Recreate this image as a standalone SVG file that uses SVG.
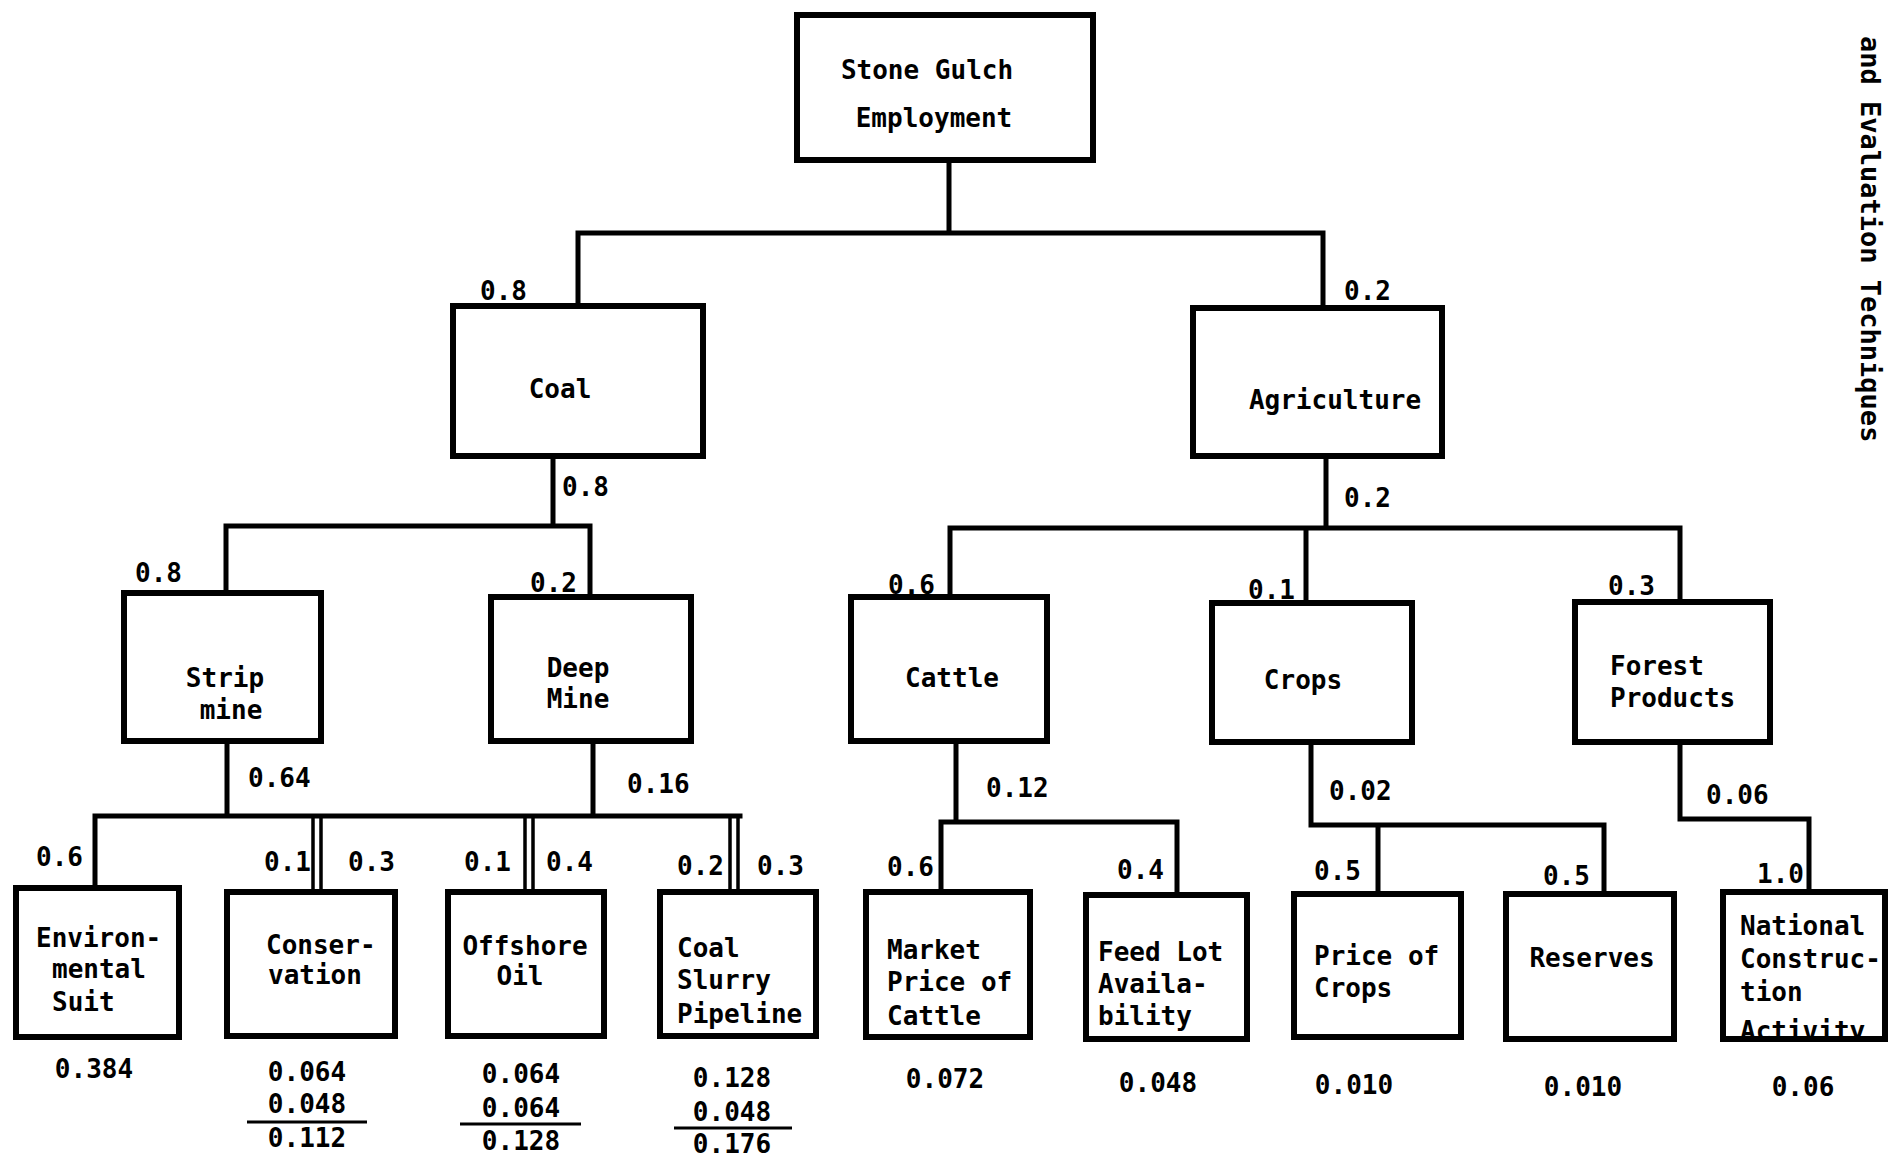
<svg xmlns="http://www.w3.org/2000/svg" width="1895" height="1160" viewBox="0 0 1895 1160">
<style>
text{font-family:"DejaVu Sans Mono","Liberation Mono",monospace;font-size:26px;font-weight:bold;fill:#000}
.m{text-anchor:middle}
.box{fill:#fff;stroke:#000;stroke-width:6}
.bx{fill:none;stroke:#000;stroke-width:6}
.c{fill:none;stroke:#000;stroke-width:5;stroke-linecap:square}
.d{fill:none;stroke:#000;stroke-width:3.5}
.r{stroke:#000;stroke-width:3}
</style>
<defs>
<clipPath id="natclip"><rect x="1723" y="892" width="162" height="145"/></clipPath>
</defs>
<rect width="1895" height="1160" fill="#fff"/>
<g id="connectors">
<path class="c" d="M949 161V233M578 233H1323M578 233V306M1323 233V308"/>
<path class="c" d="M553 456V526M226 526H590M226 526V593M590 526V597"/>
<path class="c" d="M1326 456V528M950 528H1680M950 528V597M1306 528V603M1680 528V602"/>
<path class="c" d="M227 741V816M593 741V816M95 816H740M95 816V888"/>
<path class="d" d="M313 816V892M321 816V892M525 816V892M533 816V892M730 816V892M738 816V892"/>
<path class="c" d="M956 741V822M941 822H1177M941 822V892M1177 822V895"/>
<path class="c" d="M1311 742V825H1604M1378 825V894M1604 825V894"/>
<path class="c" d="M1680 742V819H1809V892"/>
</g>
<g id="edge-labels">
<text x="480" y="300">0.8</text>
<text x="1344" y="300">0.2</text>
<text x="562" y="496">0.8</text>
<text x="1344" y="507">0.2</text>
<text x="135" y="582">0.8</text>
<text x="530" y="592">0.2</text>
<text x="888" y="594">0.6</text>
<text x="1248" y="599">0.1</text>
<text x="1608" y="595">0.3</text>
<text x="248" y="787">0.64</text>
<text x="627" y="793">0.16</text>
<text x="986" y="797">0.12</text>
<text x="1329" y="800">0.02</text>
<text x="1706" y="804">0.06</text>
<text x="36" y="866">0.6</text>
<text x="264" y="871">0.1</text>
<text x="348" y="871">0.3</text>
<text x="464" y="871">0.1</text>
<text x="546" y="871">0.4</text>
<text x="677" y="875">0.2</text>
<text x="757" y="875">0.3</text>
<text x="887" y="876">0.6</text>
<text x="1117" y="879">0.4</text>
<text x="1314" y="880">0.5</text>
<text x="1543" y="885">0.5</text>
<text x="1757" y="883">1.0</text>
</g>
<g id="n-root"><rect class="box" x="797" y="15" width="296" height="145"/><text class="m" x="927" y="79">Stone Gulch</text><text class="m" x="934" y="127">Employment</text></g>
<g id="n-coal"><rect class="box" x="453" y="306" width="250" height="150"/><text class="m" x="560" y="398">Coal</text></g>
<g id="n-agriculture"><rect class="box" x="1193" y="308" width="249" height="148"/><text class="m" x="1335" y="409">Agriculture</text></g>
<g id="n-strip"><rect class="box" x="124" y="593" width="197" height="148"/><text class="m" x="225" y="687">Strip</text><text class="m" x="231" y="719">mine</text></g>
<g id="n-deep"><rect class="box" x="491" y="597" width="200" height="144"/><text class="m" x="578" y="677">Deep</text><text class="m" x="578" y="708">Mine</text></g>
<g id="n-cattle"><rect class="box" x="851" y="597" width="196" height="144"/><text class="m" x="952" y="687">Cattle</text></g>
<g id="n-crops"><rect class="box" x="1212" y="603" width="200" height="139"/><text class="m" x="1303" y="689">Crops</text></g>
<g id="n-forest"><rect class="box" x="1575" y="602" width="195" height="140"/><text x="1610" y="675">Forest</text><text x="1610" y="707">Products</text></g>
<g id="n-env"><rect class="box" x="16" y="888" width="163" height="149"/><text x="36" y="947">Environ-</text><text x="52" y="978">mental</text><text x="52" y="1011">Suit</text></g>
<g id="n-conservation"><rect class="box" x="227" y="892" width="168" height="144"/><text x="266" y="954">Conser-</text><text x="268" y="984">vation</text></g>
<g id="n-offshore"><rect class="box" x="448" y="892" width="156" height="144"/><text class="m" x="525" y="955">Offshore</text><text class="m" x="520" y="985">Oil</text></g>
<g id="n-slurry"><rect class="box" x="660" y="892" width="156" height="144"/><text x="677" y="957">Coal</text><text x="677" y="989">Slurry</text><text x="677" y="1023">Pipeline</text></g>
<g id="n-market"><rect class="box" x="866" y="892" width="164" height="145"/><text x="887" y="959">Market</text><text x="887" y="991">Price of</text><text x="887" y="1025">Cattle</text></g>
<g id="n-feedlot"><rect class="box" x="1086" y="895" width="161" height="144"/><text x="1098" y="961">Feed Lot</text><text x="1098" y="993">Availa-</text><text x="1098" y="1025">bility</text></g>
<g id="n-pricecrops"><rect class="box" x="1294" y="894" width="167" height="143"/><text x="1314" y="965">Price of</text><text x="1314" y="997">Crops</text></g>
<g id="n-reserves"><rect class="box" x="1506" y="894" width="168" height="145"/><text class="m" x="1592" y="967">Reserves</text></g>
<g id="n-national"><rect x="1723" y="892" width="162" height="147" fill="#fff"/><g clip-path="url(#natclip)"><text x="1740" y="935">National</text><text x="1740" y="968">Construc-</text><text x="1740" y="1001">tion</text><text x="1740" y="1040">Activity</text></g><rect class="bx" x="1723" y="892" width="162" height="147"/></g>
<g id="values">
<text class="m" x="94" y="1078">0.384</text>
<text class="m" x="307" y="1081">0.064</text><text class="m" x="307" y="1113">0.048</text><line class="r" x1="247" y1="1122" x2="367" y2="1122"/><text class="m" x="307" y="1147">0.112</text>
<text class="m" x="521" y="1083">0.064</text><text class="m" x="521" y="1117">0.064</text><line class="r" x1="460" y1="1124" x2="581" y2="1124"/><text class="m" x="521" y="1150">0.128</text>
<text class="m" x="732" y="1087">0.128</text><text class="m" x="732" y="1121">0.048</text><line class="r" x1="674" y1="1128" x2="792" y2="1128"/><text class="m" x="732" y="1153">0.176</text>
<text class="m" x="945" y="1088">0.072</text>
<text class="m" x="1158" y="1092">0.048</text>
<text class="m" x="1354" y="1094">0.010</text>
<text class="m" x="1583" y="1096">0.010</text>
<text class="m" x="1803" y="1096">0.06</text>
</g>
<text transform="translate(1861 36) rotate(90)" style="font-size:27px">and Evaluation Techniques</text>
</svg>
